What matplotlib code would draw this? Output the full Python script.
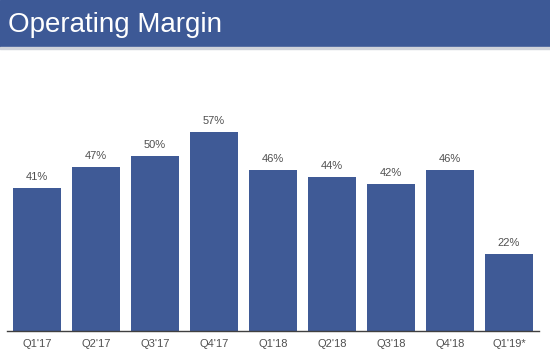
import matplotlib.pyplot as plt
from matplotlib.patches import Rectangle

quarters = ["Q1'17", "Q2'17", "Q3'17", "Q4'17", "Q1'18", "Q2'18", "Q3'18", "Q4'18", "Q1'19*"]
margin_pct = [41, 47, 50, 57, 46, 44, 42, 46, 22]

blue = '#3F5A96'
plt.rcParams['font.family'] = ['Liberation Sans', 'DejaVu Sans']

fig = plt.figure(figsize=(5.5, 3.58), dpi=100)

# header band
fig.patches.append(Rectangle((0, 1 - 47 / 358), 1, 47 / 358, transform=fig.transFigure,
                             color='#3D5996', zorder=0))
fig.patches.append(Rectangle((0, 1 - 49 / 358), 1, 2 / 358, transform=fig.transFigure,
                             color='#D0D3DA', zorder=0))
fig.text(8 / 550, 1 - 25 / 358, 'Operating Margin', color='white', fontsize=20,
         va='center', ha='left')

ax = fig.add_axes([7 / 550, 27 / 358, 532 / 550, 210 / 358])
x = range(len(quarters))
ax.bar(x, margin_pct, width=0.81, color=blue)
for xi, v in zip(x, margin_pct):
    ax.text(xi, v + 1.6, f'{v}%', ha='center', va='bottom', fontsize=8, color='#505050')

ax.set_xlim(-0.51, 8.51)
ax.set_ylim(0, 60)
ax.set_xticks(list(x))
ax.set_xticklabels(quarters, fontsize=8, color='#505050')
ax.tick_params(axis='x', length=0, pad=6)
ax.set_yticks([])
for s in ['top', 'right', 'left']:
    ax.spines[s].set_visible(False)
ax.spines['bottom'].set_color('#404040')
ax.spines['bottom'].set_linewidth(1.0)
ax.patch.set_alpha(0)

fig.savefig('out.png', dpi=100)
